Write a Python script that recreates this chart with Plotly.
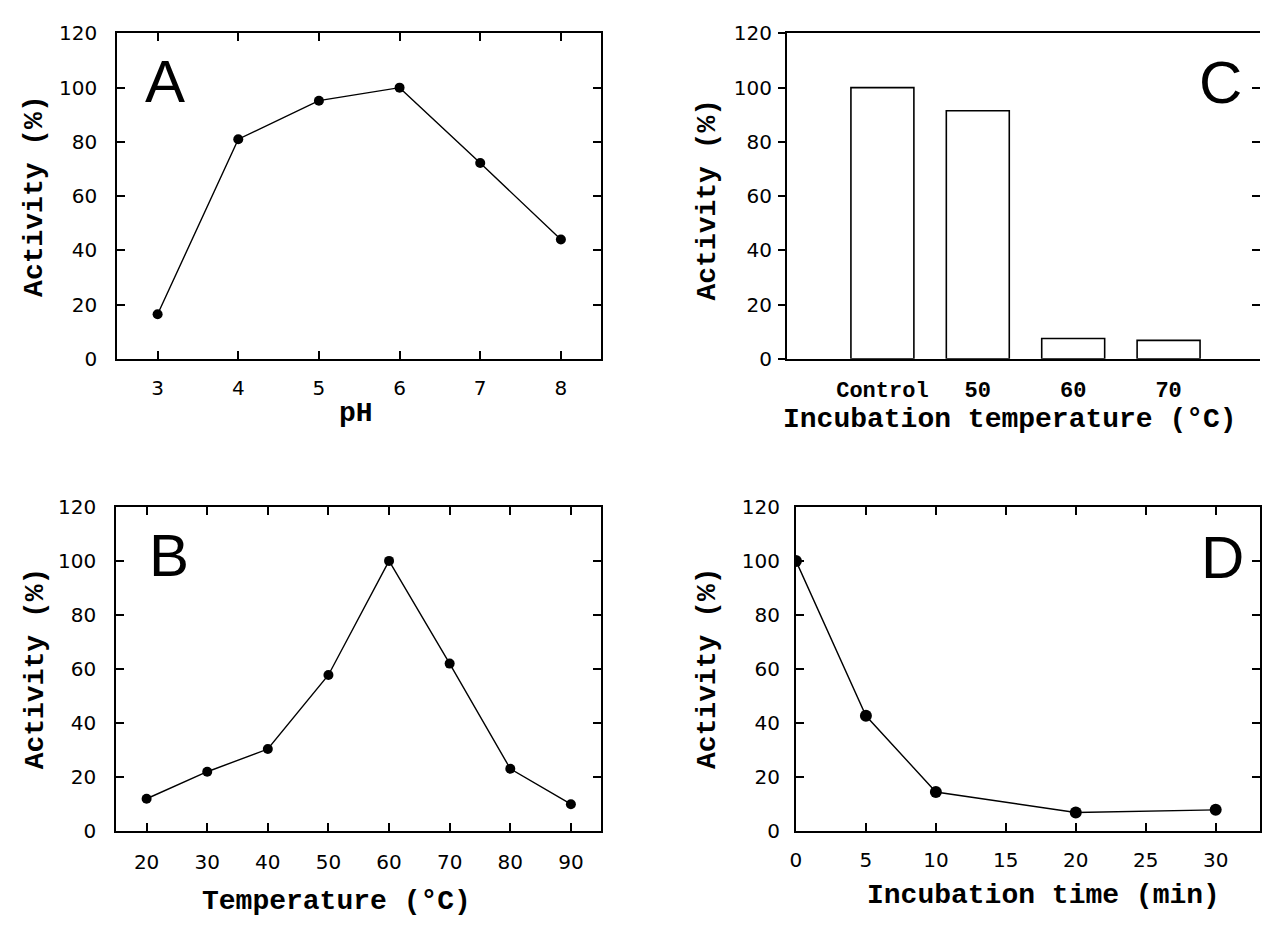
import plotly.graph_objects as go

# ---- data ----
ph_values = [3, 4, 5, 6, 7, 8]
ph_activity = [16.4, 81, 95.2, 100, 72.2, 44]

temp_values = [20, 30, 40, 50, 60, 70, 80, 90]
temp_activity = [12, 22, 30.4, 57.8, 100, 62, 23.1, 10]

inc_temp_labels = ["Control", "50", "60", "70"]
inc_temp_pos = [1, 2, 3, 4]
inc_temp_activity = [100, 91.5, 7.5, 6.8]

inc_time = [0, 5, 10, 20, 30]
inc_time_activity = [100, 42.7, 14.5, 6.9, 7.9]

y_ticks = [0, 20, 40, 60, 80, 100, 120]
ph_ticks = [3, 4, 5, 6, 7, 8]
temp_ticks = [20, 30, 40, 50, 60, 70, 80, 90]
time_ticks = [0, 5, 10, 15, 20, 25, 30]

W, H = 1262, 926
def px(x): return x / W
def py(y): return 1 - y / H

tick_font = dict(family="DejaVu Sans", size=20, color="black")
title_font = dict(family="Liberation Mono", size=28, color="black", weight="bold")
letter_font = dict(family="Liberation Sans Narrow, Liberation Sans", size=60, color="black")

def axis(**kw):
    base = dict(showline=True, linecolor="black", linewidth=2, showgrid=False,
                zeroline=False, tickfont=tick_font, ticklen=8, tickwidth=1.5,
                tickcolor="black")
    base.update(kw)
    return base

fig = go.Figure()

line_style = dict(color="black", width=1.4)

fig.add_trace(go.Scatter(x=ph_values, y=ph_activity, mode="lines+markers",
                         line=line_style, marker=dict(color="black", size=10),
                         xaxis="x", yaxis="y", showlegend=False))
fig.add_trace(go.Bar(x=inc_temp_pos, y=inc_temp_activity, width=0.66,
                     marker=dict(color="white", line=dict(color="black", width=1.6)),
                     xaxis="x2", yaxis="y2", showlegend=False))
fig.add_trace(go.Scatter(x=temp_values, y=temp_activity, mode="lines+markers",
                         line=line_style, marker=dict(color="black", size=10),
                         xaxis="x3", yaxis="y3", showlegend=False))
fig.add_trace(go.Scatter(x=inc_time, y=inc_time_activity, mode="lines+markers",
                         line=line_style, marker=dict(color="black", size=12),
                         xaxis="x4", yaxis="y4", showlegend=False))
# dummy trace to activate the right-side tick axis of panel C
fig.add_trace(go.Scatter(x=[None], y=[None], xaxis="x2", yaxis="y5", showlegend=False,
                         hoverinfo="skip"))

dom_A_x = [px(112), px(599)]
dom_top_y = [py(356), py(22)]
dom_C_x = [px(786), 1.0]
dom_B_x = [px(111), px(599)]
dom_bot_y = [py(841), py(508)]
dom_D_x = [px(795), 1.0]

fig.update_layout(
    width=W, height=H, margin=dict(l=0, r=0, t=0, b=0),
    paper_bgcolor="white", plot_bgcolor="white",
    xaxis=axis(domain=dom_A_x, anchor="y", range=[2.5, 8.5],
               tickvals=ph_ticks, ticks="inside", mirror="ticks", ticklabelstandoff=10),
    yaxis=axis(domain=dom_top_y, anchor="x", range=[0, 120],
               tickvals=y_ticks, ticks="inside", mirror="ticks", ticklabelstandoff=14),
    xaxis2=axis(domain=dom_C_x, anchor="y2", range=[0, (1262 - 786) / 96],
                tickvals=inc_temp_pos, ticktext=inc_temp_labels, ticks="", mirror=True,
                ticklabelstandoff=10,
                tickfont=dict(family="Liberation Mono", size=22, color="black", weight="bold")),
    yaxis2=axis(domain=dom_top_y, anchor="x2", range=[0, 120],
                tickvals=y_ticks, ticks="outside", ticklen=7, ticklabelstandoff=2),
    yaxis5=dict(overlaying="y2", side="right", anchor="x2", range=[0, 120],
                tickvals=y_ticks, ticks="inside", ticklen=8, tickwidth=1.5, tickcolor="black",
                showticklabels=False, showline=False, showgrid=False, zeroline=False),
    xaxis3=axis(domain=dom_B_x, anchor="y3", range=[15, 95],
                tickvals=temp_ticks, ticks="inside", mirror="ticks", ticklabelstandoff=12),
    yaxis3=axis(domain=dom_bot_y, anchor="x3", range=[0, 120],
                tickvals=y_ticks, ticks="inside", mirror="ticks", ticklabelstandoff=14),
    xaxis4=axis(domain=dom_D_x, anchor="y4", range=[0, (1262 - 795) / 14.08],
                tickvals=time_ticks, ticks="inside", mirror="ticks", ticklabelstandoff=10),
    yaxis4=axis(domain=dom_bot_y, anchor="x4", range=[0, 120],
                tickvals=y_ticks, ticks="inside", mirror="ticks", ticklabelstandoff=10),
)

annotations = [
    ("pH", 352, 412, 0),
    ("Activity (%)", 28, 189, -90),
    ("Incubation temperature (°C)", 1010, 418, 0),
    ("Activity (%)", 706, 193, -90),
    ("Temperature (°C)", 333, 913, 0),
    ("Activity (%)", 30, 674, -90),
    ("Incubation time (min)", 1044, 907, 0),
    ("Activity (%)", 706, 674, -90),
]
for text, x, y, ang in annotations:
    fig.add_annotation(text=text, x=px(x), y=py(y), xref="paper", yref="paper",
                       showarrow=False, textangle=ang, font=title_font,
                       xanchor="center", yanchor="middle")

letters = [("A", 160, 71), ("C", 1222, 72), ("B", 164, 558), ("D", 1224, 560)]
for text, x, y in letters:
    fig.add_annotation(text=text, x=px(x), y=py(y), xref="paper", yref="paper",
                       showarrow=False, font=letter_font, xanchor="center", yanchor="middle")

fig.write_html("out.html",
               config={"displayModeBar": False},
               post_script="document.documentElement.style.margin='0';"
                           "document.body.style.margin='0';"
                           "document.body.style.overflow='hidden';")
